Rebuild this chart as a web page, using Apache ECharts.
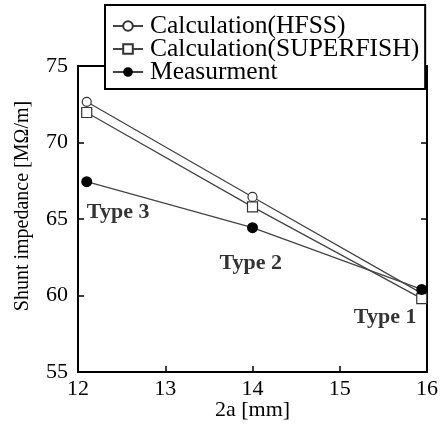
<!DOCTYPE html>
<html>
<head>
<meta charset="utf-8">
<script src="https://cdn.jsdelivr.net/npm/echarts@6/dist/echarts.min.js"></script>
<style>
  html, body { margin: 0; padding: 0; background: #fff; }
  #chart { width: 440px; height: 429px; }
</style>
</head>
<body>
<div id="chart"></div>
<script>
"use strict";

// data
var apertures = [12.1, 14.0, 15.94];
var hfss = [72.66, 66.44, 60.14];
var superfish = [71.96, 65.79, 59.8];
var measured = [67.44, 64.43, 60.4];
var typeNames = ["Type 3", "Type 2", "Type 1"];
var typeX = [12.46, 13.98, 15.52];
var typeY = [65.46, 62.12, 58.6];

function pairs(xs, ys) {
	var out = [];
	for (var i = 0; i < xs.length; i++) {
		out.push([xs[i], ys[i]]);
	}
	return out;
}

var font = "Liberation Serif";
var chart = echarts.init(document.getElementById("chart"));

var axisLine = { show: true, lineStyle: { color: "#000", width: 2 } };
var axisTick = { show: true, inside: true, length: 6, lineStyle: { color: "#000", width: 1.5 } };

var labelPoints = [];
for (var i = 0; i < typeNames.length; i++) {
	labelPoints.push({ value: [typeX[i], typeY[i]], name: typeNames[i] });
}

var option = {
	animation: false,
	grid: { left: 78, right: 13, top: 66, bottom: 57, outerBoundsMode: "none" },
	legend: {
		orient: "vertical",
		left: 105,
		top: 5,
		padding: [8, 6, 4, 7],
		itemWidth: 30,
		itemHeight: 12,
		itemGap: -3,
		backgroundColor: "#fff",
		borderColor: "#000",
		borderWidth: 2,
		borderRadius: 0,
		data: ["Calculation(HFSS)", "Calculation(SUPERFISH)", "Measurment"],
		textStyle: { fontFamily: font, fontSize: 25.5, color: "#000", padding: [0, 0, 0, 2] }
	},
	xAxis: [{
		type: "value",
		min: 12, max: 16, interval: 1,
		name: "2a [mm]",
		nameLocation: "middle",
		nameGap: 27,
		nameMoveOverlap: false,
		nameTextStyle: { fontFamily: font, fontSize: 22, color: "#000" },
		axisLine: axisLine,
		axisTick: axisTick,
		axisLabel: { fontFamily: font, fontSize: 22, color: "#000", margin: 6 },
		splitLine: { show: false }
	}, {
		type: "value",
		position: "top",
		min: 12, max: 16, interval: 1,
		axisLine: axisLine,
		axisTick: axisTick,
		axisLabel: { show: false },
		splitLine: { show: false }
	}],
	yAxis: [{
		type: "value",
		min: 55, max: 75, interval: 5,
		name: "Shunt impedance [MΩ/m]",
		nameLocation: "middle",
		nameGap: 45,
		nameTextStyle: { fontFamily: font, fontSize: 20, color: "#000", padding: [0, 0, 0, 26] },
		axisLine: axisLine,
		axisTick: axisTick,
		axisLabel: { fontFamily: font, fontSize: 22, color: "#000", margin: 10 },
		splitLine: { show: false }
	}, {
		type: "value",
		position: "right",
		min: 55, max: 75, interval: 5,
		axisLine: axisLine,
		axisTick: axisTick,
		axisLabel: { show: false },
		splitLine: { show: false }
	}],
	series: [
		{
			name: "Calculation(HFSS)",
			type: "line",
			data: pairs(apertures, hfss),
			symbol: "circle",
			symbolSize: 9,
			lineStyle: { color: "#444", width: 1.3 },
			itemStyle: { color: "#fff", borderColor: "#333", borderWidth: 1.2 },
			z: 3
		},
		{
			name: "Calculation(SUPERFISH)",
			type: "line",
			data: pairs(apertures, superfish),
			symbol: "rect",
			symbolSize: 10,
			lineStyle: { color: "#444", width: 1.3 },
			itemStyle: { color: "#fff", borderColor: "#333", borderWidth: 1.2 },
			z: 3
		},
		{
			name: "Measurment",
			type: "line",
			data: pairs(apertures, measured),
			symbol: "circle",
			symbolSize: 11,
			lineStyle: { color: "#444", width: 1.3 },
			itemStyle: { color: "#000" },
			z: 4
		},
		{
			name: "types",
			type: "scatter",
			data: labelPoints,
			symbolSize: 0,
			silent: true,
			label: {
				show: true,
				position: "inside",
				formatter: "{b}",
				fontFamily: font,
				fontSize: 22,
				fontWeight: "bold",
				color: "#000"
			}
		}
	]
};

chart.setOption(option);
</script>
</body>
</html>
